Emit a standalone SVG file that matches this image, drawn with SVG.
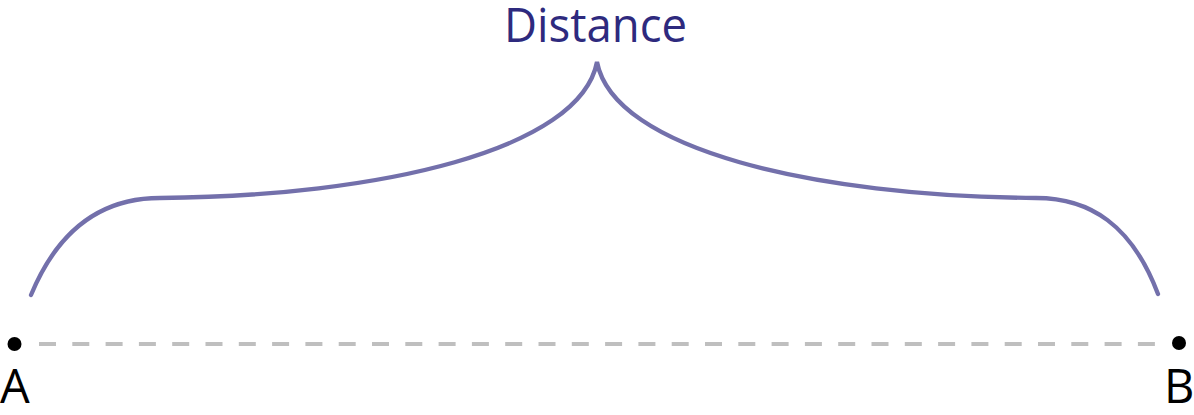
<svg xmlns="http://www.w3.org/2000/svg" width="1194" height="415" viewBox="0 0 1194 415">
<style>
.brace{fill:none;stroke:#7370ab;stroke-width:4.3;stroke-linecap:round}
.dash{stroke:#bfbfbf;stroke-width:4;stroke-dasharray:17 16.3}
.pt{fill:#000}
.lbl{font-family:"Open Sans","Noto Sans",sans-serif;font-size:47px;fill:#000}
.title{font-family:"Open Sans","Noto Sans",sans-serif;font-size:48px;fill:#2e2a7e}
</style>
<rect width="1194" height="415" fill="#fff"/>
<g id="connectors">
<line class="dash" x1="39" y1="344" x2="1156" y2="344"/>
<path class="brace" d="M31,295 C60,225 105,198 160,198 C380,196 580,150 597,62 C614,150 814,196 1036,198 C1090,198 1132,225 1158,294"/>
</g>
<g id="pointA">
<circle class="pt" cx="14.5" cy="344" r="7"/>
<text class="lbl" x="0" y="403">A</text>
</g>
<g id="pointB">
<circle class="pt" cx="1179" cy="343" r="7"/>
<text class="lbl" x="1164" y="403">B</text>
</g>
<g id="title">
<text class="title" x="504" y="42" textLength="183" lengthAdjust="spacingAndGlyphs">Distance</text>
</g>
</svg>
